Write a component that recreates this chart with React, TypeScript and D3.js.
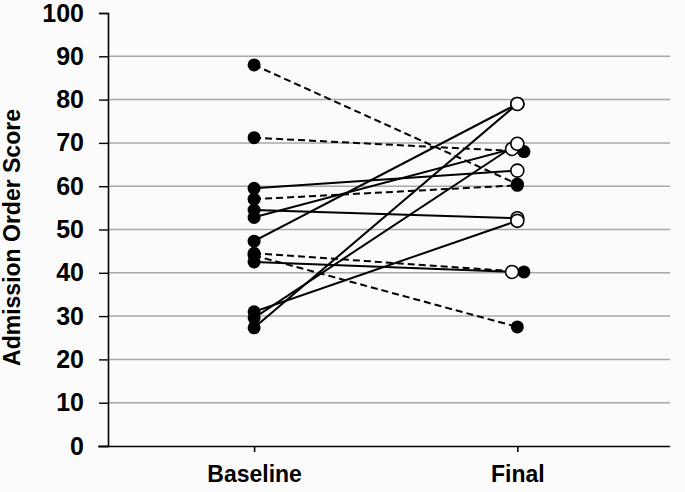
import React, { useEffect, useRef } from 'react';
import * as d3 from 'd3';

// categories on the x axis
const categories = ['Baseline', 'Final'];

// solid lines: open circles at the end
const solidBaseline = [59.5, 54.5, 52.8, 47.3, 42.5, 31.0, 29.6, 27.3];
const solidFinal = [63.6, 52.6, 68.6, 79.0, 40.2, 52.0, 69.8, 79.0];
const solidJitter = [0, 0, -0.02, 0, -0.02, 0, 0, 0];

// dashed lines: filled circles at the end
const dashedBaseline = [88.0, 71.2, 57.0, 44.5, 44.0];
const dashedFinal = [60.5, 68.0, 60.2, 40.2, 27.5];
const dashedJitter = [0, 0.025, 0, 0.025, 0];

const yTicks = [0, 10, 20, 30, 40, 50, 60, 70, 80, 90, 100];

export default function App() {
  const svgRef = useRef<SVGSVGElement>(null);

  useEffect(() => {
    if (!svgRef.current) return;
    const svg = d3.select(svgRef.current);
    svg.selectAll('*').remove();

    const W = 685;
    const H = 492;
    const left = 108, right = 670, top = 13, bottom = 446;

    svg.attr('width', W).attr('height', H);
    svg.append('rect').attr('width', W).attr('height', H).attr('fill', '#fbfbfb');

    const x = d3.scaleLinear().domain([0.445, 2.58]).range([left, right]);
    const y = d3.scaleLinear().domain([0, 100]).range([bottom, top]);
    const font = 'Arial, "Liberation Sans", sans-serif';

    // gridlines
    svg.append('g')
      .selectAll('line')
      .data(yTicks.filter(t => t > 0 && t < 100))
      .join('line')
      .attr('x1', left)
      .attr('x2', right)
      .attr('y1', d => y(d))
      .attr('y2', d => y(d))
      .attr('stroke', '#a8a8a8')
      .attr('stroke-width', 1.5);

    // y axis
    const yAxis = svg.append('g')
      .attr('transform', `translate(${left},0)`)
      .call(d3.axisLeft(y).tickValues(yTicks).tickSize(9).tickPadding(15).tickFormat(d3.format('d')));
    yAxis.select('.domain').attr('stroke', '#000').attr('stroke-width', 1.6);
    yAxis.selectAll('.tick line').attr('stroke', '#000').attr('stroke-width', 1.4);
    yAxis.selectAll('text')
      .style('font-family', font)
      .style('font-size', '25px')
      .style('font-weight', 'bold')
      .style('fill', '#000');

    // x axis
    const xAxis = svg.append('g')
      .attr('transform', `translate(0,${bottom})`)
      .call(d3.axisBottom(x).tickValues([1, 2]).tickSize(6).tickSizeOuter(0).tickPadding(14)
        .tickFormat(d => categories[+d - 1]));
    xAxis.select('.domain').attr('stroke', '#000').attr('stroke-width', 1.6)
      .attr('d', `M${left - 10},0.5H${right}`);
    xAxis.selectAll('.tick line').attr('stroke', '#000').attr('stroke-width', 1.6);
    xAxis.selectAll('text')
      .style('font-family', font)
      .style('font-size', '23px')
      .style('font-weight', 'bold')
      .style('fill', '#000');

    // axis title
    svg.append('text')
      .attr('transform', `translate(20,${(top + bottom) / 2 + 8}) rotate(-90)`)
      .attr('text-anchor', 'middle')
      .style('font-family', font)
      .style('font-size', '23px')
      .style('font-weight', 'bold')
      .style('fill', '#000')
      .text('Admission Order Score');

    const solid = solidBaseline.map((b, i) => ({ b, f: solidFinal[i], j: solidJitter[i] }));
    const dashed = dashedBaseline.map((b, i) => ({ b, f: dashedFinal[i], j: dashedJitter[i] }));

    // connecting lines
    svg.append('g')
      .selectAll('line')
      .data(dashed)
      .join('line')
      .attr('x1', x(1)).attr('y1', d => y(d.b))
      .attr('x2', d => x(2 + d.j)).attr('y2', d => y(d.f))
      .attr('stroke', '#000').attr('stroke-width', 2)
      .attr('stroke-dasharray', '7,4');

    svg.append('g')
      .selectAll('line')
      .data(solid)
      .join('line')
      .attr('x1', x(1)).attr('y1', d => y(d.b))
      .attr('x2', d => x(2 + d.j)).attr('y2', d => y(d.f))
      .attr('stroke', '#000').attr('stroke-width', 2);

    // baseline points (all filled)
    svg.append('g')
      .selectAll('circle')
      .data([...solidBaseline, ...dashedBaseline])
      .join('circle')
      .attr('cx', x(1)).attr('cy', d => y(d)).attr('r', 6.5)
      .attr('fill', '#000');

    // final points
    svg.append('g')
      .selectAll('circle')
      .data(dashed)
      .join('circle')
      .attr('cx', d => x(2 + d.j)).attr('cy', d => y(d.f)).attr('r', 6.5)
      .attr('fill', '#000');

    svg.append('g')
      .selectAll('circle')
      .data(solid)
      .join('circle')
      .attr('cx', d => x(2 + d.j)).attr('cy', d => y(d.f)).attr('r', 6.5)
      .attr('fill', '#fff').attr('stroke', '#000').attr('stroke-width', 1.6);
  }, []);

  return (
    <svg ref={svgRef} style={{ position: 'absolute', left: 0, top: 0, display: 'block' }} />
  );
}
